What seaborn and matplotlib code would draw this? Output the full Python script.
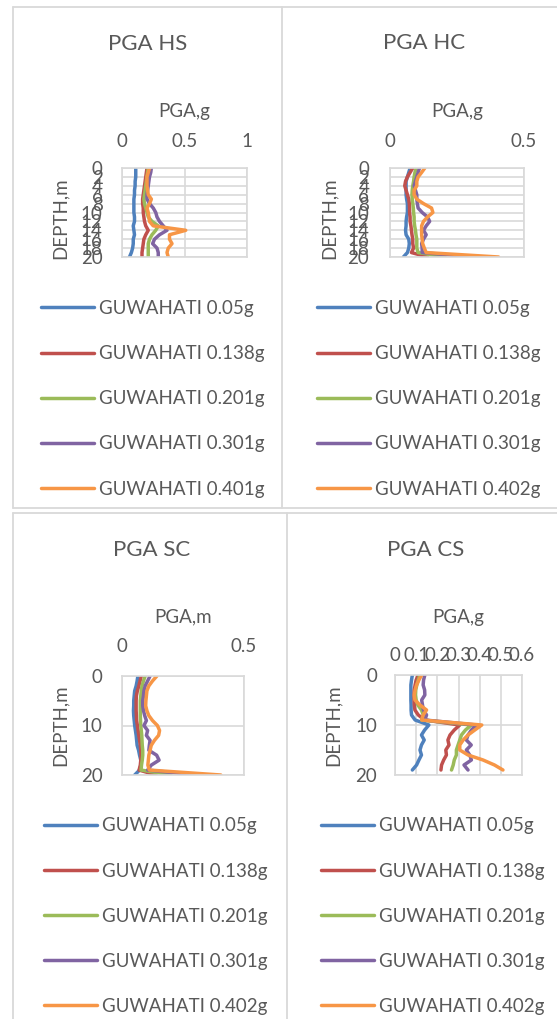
import numpy as np
import pandas as pd
import matplotlib
matplotlib.use("Agg")
import matplotlib.pyplot as plt
from matplotlib.lines import Line2D
import seaborn as sns

# ---------------------------------------------------------------
# Data (PGA in g against depth in m)
# ---------------------------------------------------------------
depth_20 = list(range(0, 21))
depth_19 = list(range(0, 20))

hs_labels = ["GUWAHATI 0.05g", "GUWAHATI 0.138g", "GUWAHATI 0.201g",
             "GUWAHATI 0.301g", "GUWAHATI 0.401g"]
other_labels = ["GUWAHATI 0.05g", "GUWAHATI 0.138g", "GUWAHATI 0.201g",
                "GUWAHATI 0.301g", "GUWAHATI 0.402g"]

hs_005 = [0.11, 0.11, 0.11, 0.105, 0.105, 0.10, 0.10, 0.095, 0.095, 0.095, 0.095,
          0.10, 0.10, 0.09, 0.095, 0.10, 0.09, 0.09, 0.085, 0.075, 0.06]
hs_0138 = [0.20, 0.195, 0.19, 0.185, 0.18, 0.175, 0.17, 0.165, 0.165, 0.17, 0.17,
           0.175, 0.18, 0.19, 0.21, 0.19, 0.175, 0.17, 0.165, 0.16, 0.16]
hs_0201 = [0.21, 0.205, 0.20, 0.195, 0.19, 0.185, 0.18, 0.175, 0.18, 0.19, 0.20,
           0.21, 0.24, 0.29, 0.27, 0.24, 0.22, 0.21, 0.21, 0.21, 0.21]
hs_0301 = [0.235, 0.23, 0.22, 0.215, 0.21, 0.205, 0.20, 0.20, 0.22, 0.25, 0.27,
           0.28, 0.30, 0.33, 0.36, 0.30, 0.26, 0.245, 0.28, 0.29, 0.29]
hs_0401 = [0.22, 0.21, 0.20, 0.20, 0.20, 0.205, 0.21, 0.235, 0.22, 0.20, 0.21,
           0.215, 0.22, 0.25, 0.51, 0.38, 0.38, 0.40, 0.37, 0.36, 0.37]

hc_005 = [0.075, 0.07, 0.065, 0.06, 0.06, 0.06, 0.06, 0.062, 0.065, 0.065, 0.065,
          0.062, 0.06, 0.06, 0.058, 0.06, 0.07, 0.072, 0.07, 0.065, 0.05]
hc_0138 = [0.085, 0.075, 0.065, 0.058, 0.055, 0.06, 0.065, 0.07, 0.072, 0.073, 0.073,
           0.075, 0.075, 0.078, 0.08, 0.082, 0.085, 0.085, 0.088, 0.08, 0.14]
hc_0201 = [0.098, 0.093, 0.09, 0.088, 0.085, 0.083, 0.082, 0.083, 0.085, 0.087, 0.088,
           0.09, 0.09, 0.092, 0.095, 0.097, 0.10, 0.10, 0.10, 0.105, 0.205]
hc_0301 = [0.11, 0.105, 0.10, 0.095, 0.09, 0.095, 0.10, 0.10, 0.102, 0.105, 0.12,
           0.14, 0.148, 0.135, 0.125, 0.135, 0.125, 0.118, 0.12, 0.12, 0.305]
hc_0402 = [0.13, 0.118, 0.105, 0.10, 0.10, 0.09, 0.09, 0.10, 0.125, 0.155, 0.16,
           0.14, 0.125, 0.118, 0.118, 0.118, 0.12, 0.122, 0.128, 0.135, 0.405]

sc_005 = [0.065, 0.062, 0.058, 0.052, 0.05, 0.048, 0.048, 0.047, 0.048, 0.05, 0.052,
          0.055, 0.058, 0.06, 0.062, 0.068, 0.072, 0.077, 0.078, 0.072, 0.052]
sc_0138 = [0.079, 0.074, 0.069, 0.063, 0.059, 0.058, 0.058, 0.058, 0.059, 0.06, 0.063,
           0.066, 0.069, 0.072, 0.075, 0.077, 0.078, 0.077, 0.075, 0.07, 0.14]
sc_0201 = [0.095, 0.088, 0.082, 0.079, 0.077, 0.075, 0.075, 0.075, 0.075, 0.076, 0.077,
           0.079, 0.081, 0.082, 0.083, 0.085, 0.085, 0.083, 0.08, 0.078, 0.20]
sc_0301 = [0.115, 0.105, 0.095, 0.09, 0.088, 0.085, 0.085, 0.088, 0.093, 0.10, 0.09,
           0.105, 0.10, 0.115, 0.112, 0.11, 0.142, 0.152, 0.12, 0.105, 0.305]
sc_0402 = [0.143, 0.125, 0.11, 0.102, 0.10, 0.098, 0.097, 0.102, 0.11, 0.125, 0.145,
           0.154, 0.15, 0.133, 0.12, 0.115, 0.11, 0.108, 0.106, 0.112, 0.405]

cs_005 = [0.082, 0.078, 0.075, 0.075, 0.075, 0.075, 0.076, 0.076, 0.078, 0.095,
          0.16, 0.14, 0.125, 0.138, 0.125, 0.118, 0.125, 0.113, 0.102, 0.082]
cs_0138 = [0.11, 0.10, 0.095, 0.091, 0.09, 0.09, 0.091, 0.094, 0.11, 0.14,
           0.306, 0.28, 0.26, 0.25, 0.255, 0.24, 0.243, 0.23, 0.22, 0.217]
cs_0201 = [0.118, 0.11, 0.103, 0.098, 0.097, 0.10, 0.108, 0.125, 0.134, 0.126,
           0.361, 0.333, 0.314, 0.306, 0.298, 0.29, 0.29, 0.28, 0.275, 0.267]
cs_0301 = [0.141, 0.135, 0.133, 0.14, 0.141, 0.126, 0.13, 0.134, 0.149, 0.141,
           0.385, 0.361, 0.345, 0.337, 0.36, 0.337, 0.353, 0.361, 0.326, 0.345]
cs_0402 = [0.126, 0.113, 0.102, 0.095, 0.091, 0.094, 0.118, 0.149, 0.133, 0.126,
           0.41, 0.377, 0.345, 0.322, 0.306, 0.306, 0.345, 0.416, 0.47, 0.51]

colors = ["#4F81BD", "#C0504D", "#9BBB59", "#8064A2", "#F79646"]

# ---------------------------------------------------------------
# Style
# ---------------------------------------------------------------
sns.set_style("white")
plt.rcParams["font.family"] = ["Lato", "DejaVu Sans"]
TXT = "#595959"
GRID = "#d9d9d9"
TICK_FS = 13.5
LEG_FS = 13.5
TITLE_FS = 16

W, H = 557, 1019
fig = plt.figure(figsize=(W / 100, H / 100), dpi=100)


def fx(x):
    return x / W


def fy(y):
    return 1 - y / H


def long_df(depth, series, labels):
    rows = []
    for lab, vals in zip(labels, series):
        for d, v in zip(depth, vals):
            rows.append({"series": lab, "depth": d, "pga": v})
    return pd.DataFrame(rows)


def panel(box, depth, series, labels, xmax, xticks, yticks, title, xlabel,
          title_xy, xlabel_xy, ylabel_xy, leg_xy, xpad, ypad):
    x0, y0, x1, y1 = box
    ax = fig.add_axes([fx(x0), fy(y1), fx(x1) - fx(x0), fy(y0) - fy(y1)])
    df = long_df(depth, series, labels)
    sns.lineplot(data=df, x="pga", y="depth", hue="series", palette=colors,
                 hue_order=labels, orient="y", sort=False, estimator=None,
                 linewidth=2.5, ax=ax, legend=False)
    ax.set_xlim(0, xmax)
    ax.set_ylim(20, 0)
    ax.set_xticks(xticks)
    ax.set_xticklabels([f"{t:g}" for t in xticks])
    ax.set_yticks(yticks)
    ax.xaxis.tick_top()
    ax.tick_params(axis="x", length=0, pad=xpad, labelsize=TICK_FS, colors=TXT)
    ax.tick_params(axis="y", length=0, pad=ypad, labelsize=TICK_FS, colors=TXT)
    ax.set_xlabel("")
    ax.set_ylabel("")
    ax.grid(True, color=GRID, linewidth=1.2)
    for sp in ax.spines.values():
        sp.set_color(GRID)
        sp.set_linewidth(1.2)
    fig.text(fx(title_xy[0]), fy(title_xy[1]), title, ha="center", va="center",
             fontsize=TITLE_FS, color=TXT)
    fig.text(fx(xlabel_xy[0]), fy(xlabel_xy[1]), xlabel, ha="center", va="center",
             fontsize=TICK_FS, color=TXT)
    fig.text(fx(ylabel_xy[0]), fy(ylabel_xy[1]), "DEPTH,m", ha="center",
             va="center", rotation=90, fontsize=TICK_FS, color=TXT)
    handles = [Line2D([], [], color=c, linewidth=2.5) for c in colors]
    fig.legend(handles, labels, loc="upper left",
               bbox_to_anchor=(fx(leg_xy[0]), fy(leg_xy[1])), frameon=False,
               fontsize=LEG_FS, handlelength=2.83, handletextpad=0.28,
               labelspacing=1.5, borderpad=0, borderaxespad=0,
               labelcolor=TXT)
    return ax


panel((122, 168, 247, 257), depth_20,
      [hs_005, hs_0138, hs_0201, hs_0301, hs_0401], hs_labels,
      1.0, [0, 0.5, 1], list(range(0, 21, 2)), "PGA HS", "PGA,g",
      (148, 44), (184, 111), (60, 218), (41, 300), 13, 14)

panel((390, 168, 524, 257), depth_20,
      [hc_005, hc_0138, hc_0201, hc_0301, hc_0402], other_labels,
      0.5, [0, 0.5], list(range(0, 21, 2)), "PGA HC", "PGA,g",
      (424, 43), (457, 111), (329, 218), (317, 300), 13, 15)

panel((122, 676, 244, 775), depth_20,
      [sc_005, sc_0138, sc_0201, sc_0301, sc_0402], other_labels,
      0.5, [0, 0.5], [0, 10, 20], "PGA SC", "PGA,m",
      (152, 550), (183, 617), (60, 725), (44, 817.5), 15, 14)

panel((395, 675, 522, 775), depth_19,
      [cs_005, cs_0138, cs_0201, cs_0301, cs_0402], other_labels,
      0.6, [0, 0.1, 0.2, 0.3, 0.4, 0.5, 0.6], [0, 10, 20], "PGA CS", "PGA,g",
      (426, 550), (458, 617), (333, 725), (321, 817.5), 8, 13)

# table cell borders around the charts
borders = [
    ((13, 557), (6.7, 6.7)),
    ((13, 13), (6.7, 508)),
    ((282, 282), (6.7, 508)),
    ((13, 557), (508, 508)),
    ((13, 557), (512.5, 512.5)),
    ((13, 13), (512.5, 1019)),
    ((287, 287), (512.5, 1019)),
]
for xs, ys in borders:
    fig.add_artist(Line2D([fx(x) for x in xs], [fy(y) for y in ys],
                          color=GRID, linewidth=1.3, transform=fig.transFigure))

fig.savefig("out.png", dpi=100)
